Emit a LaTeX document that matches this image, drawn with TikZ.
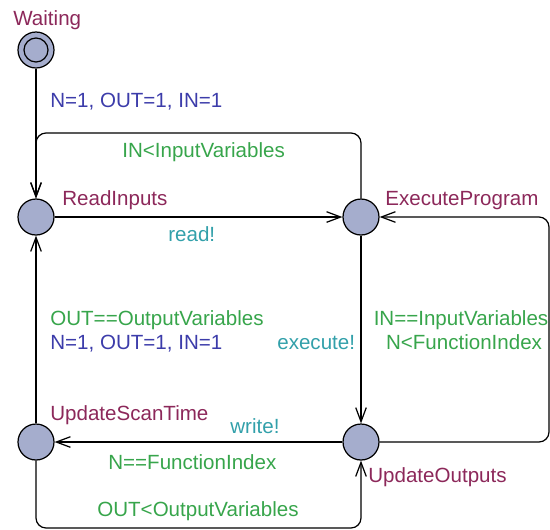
\documentclass[tikz,border=0pt]{standalone}
\usepackage{fontspec}
\setmainfont{Liberation Sans}
\usetikzlibrary{arrows.meta}

\begin{document}
\begin{tikzpicture}[x=0.02cm,y=-0.02cm]

  \definecolor{loccol}{RGB}{165,173,205}
  \definecolor{namecol}{RGB}{140,40,90}
  \definecolor{guardcol}{RGB}{55,165,75}
  \definecolor{updcol}{RGB}{60,60,170}
  \definecolor{synccol}{RGB}{50,160,170}

 \tikzset{
      locstl/.style={circle,draw,line width=0.7pt,fill=loccol,minimum size=0.72cm,inner sep=0pt},
      edgestl/.style={line width=0.7pt,rounded corners=0.2cm,-{Straight Barb[length=8pt,width=6pt]}},
      lblstl/.style={inner sep=0pt,anchor=base west,font=\fontsize{11.7}{14}\selectfont},
      namestl/.style={lblstl,text=namecol},
      guardstl/.style={lblstl,text=guardcol},
      updstl/.style={lblstl,text=updcol},
      syncstl/.style={lblstl,text=synccol},
    }

  \useasboundingbox (0,0) rectangle (550,529);

 % locations.
 \node[locstl] (wait) at (36,50) {};
 \draw[line width=0.7pt] (wait.center) circle[radius=0.24cm];
 \node[locstl] (read) at (36,217) {};
 \node[locstl] (exec) at (361,217) {};
 \node[locstl] (scan) at (36,442) {};
 \node[locstl] (upd) at (361,442) {};

 %% corner points of the loops.
 \coordinate (topc) at (200,133);
 \coordinate (rightc) at (549,330);
 \coordinate (botc) at (200,528);

  \draw[edgestl] (wait) -- (read);
  \draw[edgestl] (exec) |- (topc) -| (read);
  \draw[edgestl] (read) -- (exec);
  \draw[edgestl] (exec) -- (upd);
  \draw[edgestl] (upd) -| (rightc) |- (exec);
  \draw[edgestl] (upd) -- (scan);
  \draw[edgestl] (scan) |- (botc) -| (upd);
  \draw[edgestl] (scan) -- (read);

  % names.
  \node[namestl] (waitname) at (13,25) {Waiting};
  \node[namestl] (readname) at (62,205) {ReadInputs};
  \node[namestl] (execname) at (385,205) {ExecuteProgram};
  \node[namestl] (scanname) at (50,420) {UpdateScanTime};
  \node[namestl] (updname) at (368,482) {UpdateOutputs};

  % guards, updates and syncs.
  \node[updstl] (initupd) at (50,107) {N=1, OUT=1, IN=1};
  \node[guardstl] (inguard) at (122,157) {IN<InputVariables};
  \node[syncstl] (readsync) at (168,241) {read!};
  \node[guardstl] (outguard) at (50,325) {OUT==OutputVariables};
  \node[updstl] (resetupd) at (50,349) {N=1, OUT=1, IN=1};
  \node[syncstl] (execsync) at (277,349) {execute!};
  \node[guardstl,anchor=base] (ineqguard) at (461,325) {IN==InputVariables};
  \node[guardstl,anchor=base] (fnguard) at (464,349) {N<FunctionIndex};
  \node[syncstl] (writesync) at (230,433) {write!};
  \node[guardstl] (fneqguard) at (108,469) {N==FunctionIndex};
  \node[guardstl] (outlguard) at (97,516) {OUT<OutputVariables};

\end{tikzpicture}
\end{document}
